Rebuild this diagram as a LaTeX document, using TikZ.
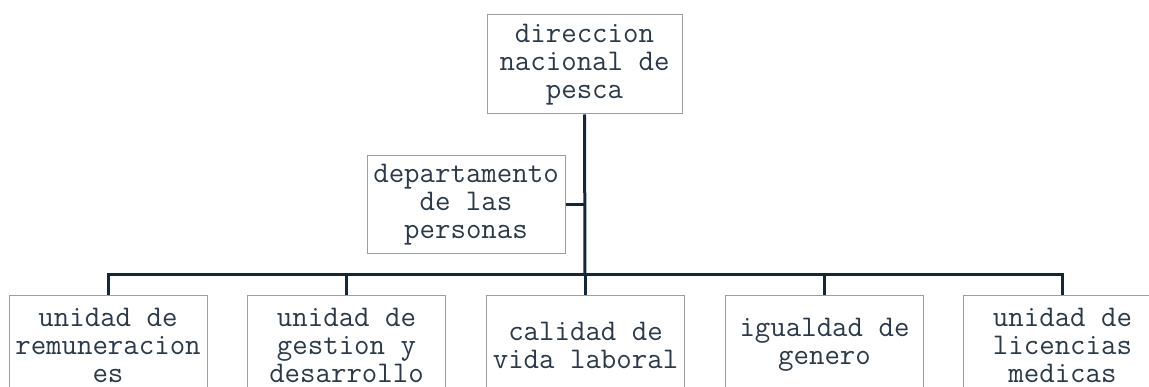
\documentclass[tikz,border=0pt]{standalone}
\usepackage{fontspec}
\definecolor{txt}{HTML}{2B3A4B}
\definecolor{linec}{HTML}{12263D}
\definecolor{boxc}{HTML}{9E9E9E}
\begin{document}
\begin{tikzpicture}[x=1pt,y=-1pt,
  orgbox/.style={draw=boxc, line width=1pt, fill=white, minimum width=#1, minimum height=98pt,
    inner sep=0pt, align=center, text=txt, font=\ttfamily\fontsize{30}{28}\selectfont},
  orgbox/.default=198pt,
  conn/.style={draw=linec, line width=3pt}]
\useasboundingbox (0,0) rectangle (1149,387);
\clip (0,0) rectangle (1149,387);
\node[orgbox=195pt, minimum height=99pt] (top) at (584.5,64.5) {direccion\\nacional de\\pesca};
\node[orgbox] (dept) at (466,205) {departamento\\de las\\personas};
\node[orgbox] (b1) at (108,345) {unidad de\\remuneracion\\es};
\node[orgbox] (b2) at (346.5,345) {unidad de\\gestion y\\desarrollo};
\node[orgbox] (b3) at (585.5,345) {calidad de\\vida laboral};
\node[orgbox] (b4) at (824.5,345) {igualdad de\\genero};
\node[orgbox] (b5) at (1062.5,345) {unidad de\\licencias\\medicas};
\coordinate (bus) at (585,275);
\draw[conn] (top.south) -- (bus);
\draw[conn] (dept.east) -- (dept.east -| bus);
\draw[conn] (bus) -| (b1.north);
\draw[conn] (bus) -| (b2.north);
\draw[conn] (bus) -- (bus |- b3.north);
\draw[conn] (bus) -| (b4.north);
\draw[conn] (bus) -| (b5.north);
\end{tikzpicture}
\end{document}
